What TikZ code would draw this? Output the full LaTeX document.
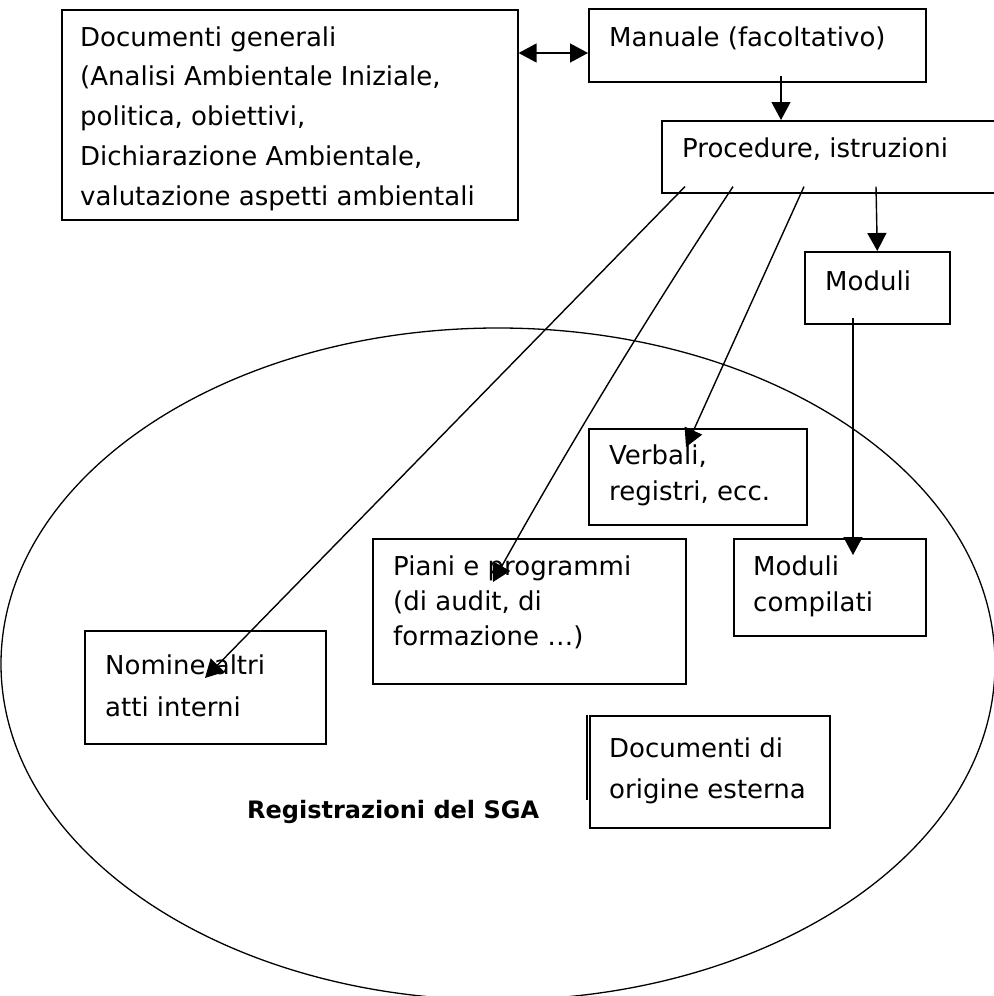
\documentclass[tikz,border=0pt]{standalone}
\usepackage{fontspec}
\setmainfont{DejaVu Sans}
\usetikzlibrary{arrows.meta,calc,shapes.geometric}

\newcommand{\diagfont}{\fontsize{26bp}{36bp}\selectfont}
\newcommand{\diagbold}{\fontsize{24bp}{36bp}\selectfont\bfseries}

\begin{document}
\begin{tikzpicture}[x=1bp,y=-1bp,
  box/.style={draw, line width=1.6bp, anchor=north west, inner sep=0pt, fill=white},
  txt/.style={anchor=north west, inner sep=0pt, align=left, font=\diagfont, yshift=25.2bp},
  link/.style={line width=1.4bp, -{Triangle[length=18bp,width=19bp]}},
  dlink/.style={line width=1.4bp, {Triangle[length=18bp,width=19bp]}-{Triangle[length=18bp,width=19bp]}},
]
\useasboundingbox (0,0) rectangle (994,996);

% outer region of the records
\node[draw, ellipse, line width=1.3bp, inner sep=0pt,
      minimum width=994bp, minimum height=672bp] (sga) at (498,664) {};

% boxes
\node[box, minimum width=456bp, minimum height=210bp] (docgen) at (61,9) {};
\node[box, minimum width=337bp, minimum height=73bp]  (manual) at (588,8) {};
\node[box, minimum width=345bp, minimum height=72bp]  (proc)   at (661,120) {};
\node[box, minimum width=145bp, minimum height=72bp]  (mod)    at (804,251) {};
\node[box, minimum width=218bp, minimum height=96bp]  (verb)   at (588,428) {};
\node[box, minimum width=313bp, minimum height=145bp] (piani)  at (372,538) {};
\node[box, minimum width=192bp, minimum height=97bp]  (comp)   at (733,538) {};
\node[box, minimum width=241bp, minimum height=113bp] (nom)    at (84,630) {};
\node[box, minimum width=240bp, minimum height=112bp] (ext)    at (589,715) {};
\draw[line width=1.6bp] (587,715) -- (587,800);

% texts
\node[txt] (docgen-t) at (80,46) {\strut Documenti generali\\[3.75bp]
  \strut(Analisi Ambientale Iniziale,\\[3.75bp]
  \strut politica, obiettivi,\\[3.75bp]
  \strut Dichiarazione Ambientale,\\[3.75bp]
  \strut valutazione aspetti ambientali};
\node[txt] (manual-t) at (609,46) {\strut Manuale (facoltativo)};
\node[txt] (proc-t)   at (682,157) {\strut Procedure, istruzioni};
\node[txt] (mod-t)    at (825,290) {\strut Moduli};
\node[txt] (verb-t)   at (609,464) {\strut Verbali,\\ \strut registri, ecc.};
\node[txt] (piani-t)  at (393,575) {\strut Piani e programmi\\[-1bp]
  \strut(di audit, di\\[-1bp] \strut formazione \dots)};
\node[txt] (comp-t)   at (753,575) {\strut Moduli\\ \strut compilati};
\node[txt] (nom-t)    at (105,674) {\strut Nomine altri\\[6bp] \strut atti interni};
\node[txt] (ext-t)    at (609,757) {\strut Documenti di\\[5bp] \strut origine esterna};
\node[anchor=base west, inner sep=0pt, font=\diagbold] (sga-t) at (247,818)
  {Registrazioni del SGA};

% start and end points of the connectors
\coordinate (p1) at ($(proc.south west)+(24,-7)$);
\coordinate (p2) at ($(proc.south west)+(72,-7)$);
\coordinate (p3) at ($(proc.south west)+(143,-7)$);
\coordinate (p4) at ($(proc.south west)+(215,-7)$);
\coordinate (m1) at ($(mod.south west)+(49,-7)$);
\coordinate (piani-in) at ($(piani.north west)+(121,44)$);

% connectors
\draw[dlink] ($(docgen.north east)+(0,44)$) -- ($(manual.north west)+(0,45)$);
\draw[link] ($(manual.south west)+(193,-7)$) -- ($(proc.north west)+(120,0)$);
\draw[link] (p4) -- (mod.north);
\draw[link] (m1) -- ($(comp.north west)+(120,17)$);
\draw[link] (p3) -- ($(verb.north west)+(98,19)$);
\draw[link] (p2) .. controls ($(p2)!0.33!(piani-in)+(-5,-3)$)
                and ($(p2)!0.67!(piani-in)+(-5,-3)$) .. (piani-in);
\draw[link] (p1) -- ($(nom.north west)+(121,48)$);
\end{tikzpicture}
\end{document}
